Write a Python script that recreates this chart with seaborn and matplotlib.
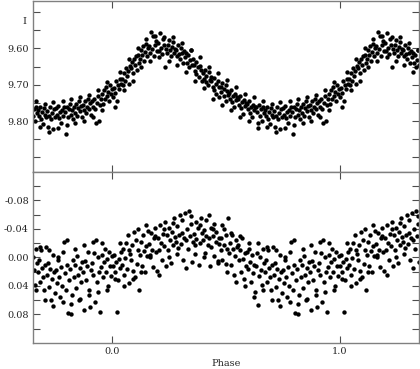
import numpy as np
import pandas as pd
import matplotlib
matplotlib.use('Agg')
import matplotlib.pyplot as plt
import matplotlib.ticker as mticker
import matplotlib.transforms as mtransforms
import seaborn as sns

# phase-folded photometry: phase, I magnitude, residual (one cycle, 0..1)
phase = [
    0.003, 0.008, 0.012, 0.017, 0.021, 0.026, 0.030, 0.034, 0.038,
    0.042, 0.046, 0.050, 0.055, 0.059, 0.063, 0.068, 0.072, 0.077,
    0.081, 0.085, 0.089, 0.093, 0.098, 0.102, 0.106, 0.111, 0.116,
    0.121, 0.125, 0.129, 0.134, 0.138, 0.142, 0.147, 0.151, 0.156,
    0.160, 0.164, 0.169, 0.173, 0.178, 0.182, 0.186, 0.191, 0.196,
    0.201, 0.205, 0.209, 0.214, 0.218, 0.222, 0.227, 0.231, 0.236,
    0.240, 0.244, 0.249, 0.253, 0.257, 0.262, 0.266, 0.271, 0.275,
    0.279, 0.283, 0.288, 0.292, 0.297, 0.301, 0.305, 0.310, 0.314,
    0.318, 0.322, 0.327, 0.331, 0.336, 0.340, 0.344, 0.349, 0.353,
    0.357, 0.362, 0.366, 0.370, 0.375, 0.379, 0.384, 0.388, 0.393,
    0.397, 0.401, 0.406, 0.410, 0.414, 0.419, 0.423, 0.428, 0.432,
    0.436, 0.441, 0.445, 0.449, 0.454, 0.458, 0.463, 0.467, 0.471,
    0.476, 0.480, 0.484, 0.489, 0.493, 0.498, 0.502, 0.506, 0.511,
    0.515, 0.519, 0.524, 0.528, 0.533, 0.537, 0.541, 0.546, 0.550,
    0.554, 0.559, 0.563, 0.567, 0.572, 0.576, 0.581, 0.585, 0.590,
    0.594, 0.598, 0.603, 0.607, 0.611, 0.616, 0.620, 0.625, 0.629,
    0.633, 0.638, 0.642, 0.646, 0.651, 0.655, 0.659, 0.664, 0.668,
    0.673, 0.677, 0.681, 0.686, 0.690, 0.694, 0.699, 0.703, 0.708,
    0.712, 0.716, 0.721, 0.725, 0.729, 0.734, 0.738, 0.743, 0.747,
    0.751, 0.756, 0.760, 0.764, 0.769, 0.773, 0.778, 0.782, 0.786,
    0.791, 0.795, 0.800, 0.804, 0.808, 0.813, 0.817, 0.821, 0.826,
    0.830, 0.834, 0.839, 0.843, 0.847, 0.852, 0.856, 0.861, 0.865,
    0.869, 0.874, 0.878, 0.882, 0.887, 0.891, 0.896, 0.900, 0.904,
    0.909, 0.913, 0.917, 0.922, 0.926, 0.931, 0.935, 0.939, 0.944,
    0.948, 0.952, 0.957, 0.961, 0.965, 0.970, 0.974, 0.979, 0.983, 0.988, 0.992, 0.996,
    0.010, 0.033, 0.052, 0.074, 0.091, 0.113, 0.127, 0.149, 0.166, 0.188,
    0.207, 0.229, 0.247, 0.268, 0.285, 0.307, 0.325, 0.347, 0.364, 0.386,
    0.404, 0.426, 0.443, 0.465, 0.482, 0.504, 0.521, 0.543, 0.561, 0.583,
    0.600, 0.622, 0.640, 0.662, 0.679, 0.701, 0.719, 0.740, 0.758, 0.780,
    0.798, 0.819, 0.837, 0.858, 0.876, 0.898, 0.915, 0.937, 0.955, 0.977,
]

mag_i = [
    9.735, 9.708, 9.722, 9.690, 9.744, 9.700, 9.712, 9.684, 9.697,
    9.683, 9.701, 9.668, 9.690, 9.655, 9.676, 9.662, 9.698, 9.648,
    9.655, 9.638, 9.668, 9.630, 9.647, 9.622, 9.660, 9.617, 9.640,
    9.628, 9.605, 9.617, 9.594, 9.636, 9.610, 9.588, 9.622, 9.600,
    9.594, 9.612, 9.556, 9.603, 9.566, 9.620, 9.590, 9.580, 9.607,
    9.585, 9.606, 9.557, 9.598, 9.615, 9.574, 9.592, 9.650, 9.603,
    9.612, 9.590, 9.578, 9.605, 9.622, 9.596, 9.583, 9.614, 9.601,
    9.604, 9.622, 9.590, 9.615, 9.630, 9.598, 9.612, 9.640, 9.608,
    9.625, 9.612, 9.640, 9.618, 9.650, 9.632, 9.605, 9.645, 9.628,
    9.645, 9.662, 9.638, 9.670, 9.652, 9.680, 9.648, 9.660, 9.690,
    9.668, 9.684, 9.660, 9.692, 9.675, 9.700, 9.665, 9.688, 9.678,
    9.690, 9.705, 9.682, 9.715, 9.698, 9.725, 9.690, 9.706, 9.735,
    9.705, 9.720, 9.696, 9.730, 9.712, 9.745, 9.702, 9.718, 9.728,
    9.722, 9.738, 9.715, 9.748, 9.730, 9.760, 9.725, 9.742, 9.735,
    9.740, 9.755, 9.732, 9.765, 9.748, 9.780, 9.742, 9.758, 9.750,
    9.752, 9.768, 9.745, 9.778, 9.760, 9.790, 9.755, 9.770, 9.762,
    9.762, 9.775, 9.818, 9.755, 9.785, 9.768, 9.800, 9.760, 9.778,
    9.770, 9.785, 9.762, 9.795, 9.776, 9.808, 9.765, 9.782, 9.790,
    9.772, 9.815, 9.786, 9.762, 9.795, 9.778, 9.822, 9.768, 9.790,
    9.765, 9.782, 9.758, 9.792, 9.774, 9.805, 9.770, 9.786, 9.760,
    9.775, 9.835, 9.762, 9.790, 9.768, 9.752, 9.782, 9.770, 9.795,
    9.760, 9.778, 9.752, 9.785, 9.765, 9.745, 9.772, 9.758, 9.790,
    9.755, 9.770, 9.745, 9.778, 9.762, 9.740, 9.768, 9.750, 9.782,
    9.745, 9.760, 9.738, 9.768, 9.805, 9.750, 9.730, 9.800, 9.755,
    9.740, 9.725, 9.752, 9.715, 9.738, 9.705, 9.730, 9.720, 9.745, 9.700, 9.725, 9.712,
    9.760, 9.665, 9.715, 9.630, 9.690, 9.600, 9.650, 9.575, 9.635, 9.565,
    9.625, 9.570, 9.635, 9.568, 9.645, 9.585, 9.665, 9.605, 9.690, 9.625,
    9.710, 9.650, 9.740, 9.668, 9.755, 9.688, 9.770, 9.705, 9.790, 9.725,
    9.800, 9.735, 9.805, 9.745, 9.815, 9.752, 9.830, 9.748, 9.820, 9.745,
    9.812, 9.740, 9.805, 9.735, 9.800, 9.728, 9.790, 9.715, 9.770, 9.692,
]

resid = [
    0.012, -0.004, 0.021, 0.006, 0.076, 0.031, 0.002, 0.015, -0.008,
    0.010, -0.012, 0.024, 0.001, -0.020, 0.016, -0.032, 0.036, -0.005,
    0.004, -0.018, 0.019, -0.036, 0.028, -0.025, 0.009, -0.011, 0.045,
    -0.004, -0.022, 0.012, -0.031, -0.009, 0.021, -0.016, -0.002, -0.037,
    -0.019, -0.003, -0.035, -0.011, 0.014, -0.027, -0.042, -0.008, 0.019,
    -0.028, -0.011, -0.045, -0.020, 0.003, -0.033, -0.016, -0.050, 0.012,
    -0.031, -0.010, -0.041, -0.024, 0.008, -0.036, -0.018, -0.055, -0.029,
    -0.022, -0.044, -0.013, -0.031, -0.060, -0.019, -0.035, 0.004, -0.027,
    -0.063, -0.025, -0.040, -0.012, -0.065, -0.030, -0.047, 0.006, -0.022,
    -0.033, -0.018, -0.050, -0.026, -0.041, 0.010, -0.021, -0.055, -0.035,
    -0.024, -0.038, -0.006, -0.030, -0.052, -0.017, -0.028, 0.012, -0.041,
    -0.015, -0.030, -0.002, -0.047, -0.022, -0.036, 0.008, -0.019, -0.028,
    -0.010, -0.027, 0.003, -0.040, -0.017, -0.031, 0.009, -0.012, -0.055,
    -0.006, -0.020, 0.010, -0.032, -0.012, 0.024, -0.002, -0.024, -0.014,
    -0.018, 0.004, -0.010, 0.020, -0.028, 0.002, 0.030, -0.006, 0.012,
    -0.008, 0.016, -0.020, 0.006, 0.035, -0.003, 0.022, 0.010, 0.048,
    0.012, -0.006, 0.066, 0.026, 0.000, 0.018, 0.038, -0.012, 0.008,
    0.020, 0.004, 0.035, -0.010, 0.015, 0.028, 0.045, 0.010, -0.014,
    0.025, 0.008, 0.042, 0.016, 0.060, 0.030, -0.004, 0.021, 0.050,
    0.018, 0.036, 0.004, 0.027, 0.056, 0.014, 0.040, -0.008, -0.022,
    0.022, 0.045, 0.010, 0.078, 0.031, 0.016, 0.079, 0.052, 0.003,
    0.028, 0.010, 0.043, -0.002, 0.024, 0.060, 0.015, 0.034, 0.006,
    0.020, 0.074, 0.005, 0.032, 0.012, -0.008, 0.045, 0.070, 0.018,
    0.008, 0.025, -0.006, 0.062, -0.024, 0.035, 0.000, 0.020, 0.076,
    0.014, -0.004, 0.028, 0.006, -0.012, 0.020, 0.002, 0.040, -0.008, 0.012, 0.026, -0.002,
    0.030, -0.020, 0.040, -0.010, 0.030, -0.040, 0.020, -0.045, 0.000, -0.030,
    0.025, -0.040, 0.000, -0.048, -0.005, -0.052, 0.015, -0.058, -0.005, -0.045,
    0.000, -0.060, -0.040, 0.005, -0.045, 0.020, -0.035, 0.035, -0.030, 0.040,
    -0.012, 0.055, -0.020, 0.045, -0.015, 0.060, -0.010, 0.068, 0.000, 0.062,
    -0.025, 0.065, -0.012, 0.058, -0.018, 0.052, -0.022, 0.048, -0.020, 0.045,
]

sns.set_style('ticks')
plt.rcParams['font.family'] = ['DejaVu Serif']
plt.rcParams['axes.unicode_minus'] = False

df = pd.DataFrame({'phase': phase, 'I': mag_i, 'resid': resid})
# show the cycle repeated on both sides, from -0.35 to 1.35
df = pd.concat([df,
                df[df.phase > 0.65].assign(phase=lambda d: d.phase - 1),
                df[df.phase < 0.35].assign(phase=lambda d: d.phase + 1)])

fig = plt.figure(figsize=(4.2, 3.69), dpi=100)
ax1 = fig.add_axes([0.0786, 0.534, 0.919, 0.463])
ax2 = fig.add_axes([0.0786, 0.0705, 0.919, 0.4635])

sns.scatterplot(x='phase', y='I', data=df, ax=ax1, color='black', s=10, linewidth=0)
sns.scatterplot(x='phase', y='resid', data=df, ax=ax2, color='black', s=10, linewidth=0)

ax1.set_ylim(9.94, 9.47)
ax2.set_ylim(0.12, -0.12)

ax1.yaxis.set_major_locator(mticker.FixedLocator([9.60, 9.70, 9.80]))
ax1.yaxis.set_minor_locator(mticker.FixedLocator([9.50, 9.55, 9.65, 9.75, 9.85, 9.90]))
ax1.yaxis.set_major_formatter(mticker.FormatStrFormatter('%.2f'))
ax2.yaxis.set_major_locator(mticker.FixedLocator([-0.08, -0.04, 0.0, 0.04, 0.08]))
ax2.yaxis.set_minor_locator(mticker.FixedLocator([-0.10, -0.06, -0.02, 0.02, 0.06, 0.10]))
ax2.yaxis.set_major_formatter(mticker.FormatStrFormatter('%.2f'))

for ax in (ax1, ax2):
    ax.set_xlim(-0.35, 1.35)
    ax.xaxis.set_major_locator(mticker.FixedLocator([0.0, 1.0]))
    ax.xaxis.set_major_formatter(mticker.FormatStrFormatter('%.1f'))
    ax.set_xlabel('')
    ax.set_ylabel('')
    for sp in ax.spines.values():
        sp.set_visible(True)
        sp.set_color('0.5')
        sp.set_linewidth(1.0)
    ax.tick_params(which='both', direction='in', top=True, right=True,
                   color='0.3', width=0.8, labelsize=7, labelcolor='0.15')
    ax.tick_params(which='major', length=5, pad=3)
    ax.tick_params(which='minor', length=5)

ax1.tick_params(axis='x', labelbottom=False)

trans = mtransforms.blended_transform_factory(ax1.transAxes, ax1.transData)
ax1.text(-0.016, 9.527, 'I', transform=trans, ha='right', va='center',
         fontsize=7, color='0.15')

ax2.set_xlabel('Phase', fontsize=7, color='0.15', labelpad=2)

fig.savefig('out.png', dpi=100)
